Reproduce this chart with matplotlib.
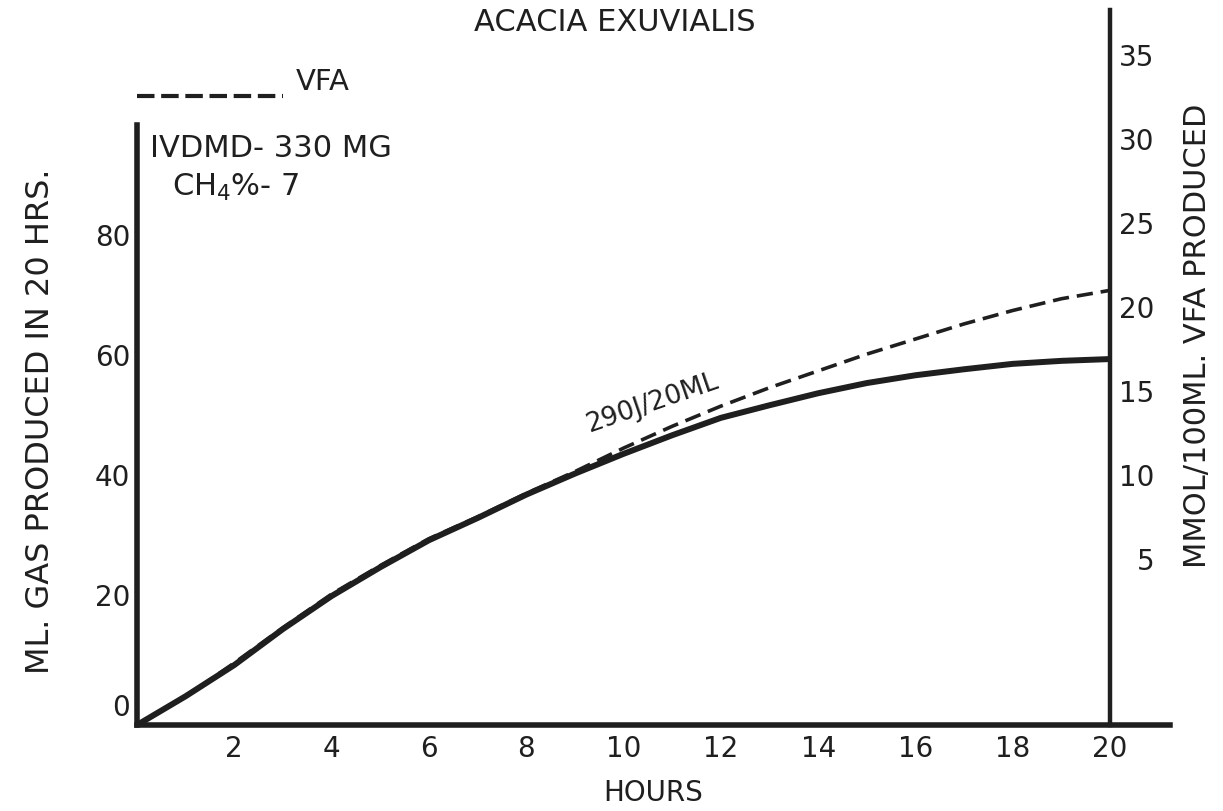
import matplotlib
matplotlib.use("Agg")
import matplotlib.pyplot as plt
import matplotlib.transforms as mtransforms

# Incubation time, hours
hours = [0, 1, 2, 3, 4, 5, 6, 7, 8, 9, 10,
         11, 12, 13, 14, 15, 16, 17, 18, 19, 20]
# Cumulative gas production, ml
gas_ml = [0, 4.8, 10.0, 16.0, 21.5, 26.3, 30.8, 34.5, 38.4, 41.9, 45.2,
          48.3, 51.2, 53.3, 55.3, 57.0, 58.3, 59.3, 60.2, 60.7, 61.0]
# Volatile fatty acids, mmol / 100 ml (read on the right-hand scale)
vfa_mmol = [-4.9, -3.2, -1.2, 0.9, 2.9, 4.6, 6.2, 7.5, 8.9, 10.2, 11.6,
            12.9, 14.1, 15.2, 16.2, 17.2, 18.1, 19.0, 19.8, 20.5, 21.0]

x_ticks = [2, 4, 6, 8, 10, 12, 14, 16, 18, 20]
left_ticks = [0, 20, 40, 60, 80]
right_ticks = [5, 10, 15, 20, 25, 30, 35]

INK = "#1f1f1f"
plt.rcParams["font.family"] = ["DejaVu Sans"]

fig = plt.figure(figsize=(12.23, 8.11), dpi=100)
fig.patch.set_facecolor("white")
ax = fig.add_axes([0.1120, 0.1060, 0.8446, 0.8816])
ax.set_facecolor("none")

ax.set_xlim(0, 21.23)
ax.set_ylim(0, 119.17)

# Gas curve (solid)
ax.plot(hours, gas_ml, color=INK, lw=4.3, solid_capstyle="butt",
        solid_joinstyle="round", zorder=3)

# Axes frame
for side in ("top", "right"):
    ax.spines[side].set_visible(False)
for side in ("left", "bottom"):
    ax.spines[side].set_linewidth(4.0)
    ax.spines[side].set_color(INK)
ax.spines["left"].set_bounds(0, 100)

ax.set_xticks(x_ticks)
ax.set_xticklabels([str(t) for t in x_ticks])
ax.set_yticks(left_ticks)
ax.set_yticklabels([str(t) for t in left_ticks])
ax.tick_params(axis="both", length=0, labelsize=20, colors=INK)
ax.tick_params(axis="x", pad=7)
ax.tick_params(axis="y", pad=5)
for lab, val in zip(ax.get_yticklabels(), left_ticks):
    lift = 20 if val == 0 else 10
    shift = mtransforms.ScaledTranslation(0, lift / 100, fig.dpi_scale_trans)
    lab.set_transform(lab.get_transform() + shift)

ax.set_xlabel("HOURS", fontsize=20, color=INK, labelpad=12)
ax.set_ylabel("ML. GAS PRODUCED IN 20 HRS.", fontsize=23, color=INK)
ax.yaxis.set_label_coords(-0.078, 0.425)

# Right-hand VFA scale
ax2 = ax.twinx()
ax2.set_facecolor("none")
ax2.set_ylim(-4.90, 37.70)
ax2.plot(hours, vfa_mmol, color=INK, lw=2.6, linestyle=(0, (4.5, 2.2)),
         zorder=3)
for side in ("top", "left", "bottom"):
    ax2.spines[side].set_visible(False)
ax2.spines["right"].set_position(("data", 20))
ax2.spines["right"].set_linewidth(3.2)
ax2.spines["right"].set_color(INK)
ax2.set_yticks(right_ticks)
ax2.set_yticklabels([str(t) for t in right_ticks])
ax2.tick_params(axis="y", length=0, labelsize=20, colors=INK, pad=32)
for lab in ax2.get_yticklabels():
    lab.set_horizontalalignment("right")
ax2.set_ylabel("MMOL/100ML. VFA PRODUCED", fontsize=22, color=INK)
ax2.yaxis.set_label_coords(1.0126, 0.545)

# Title and annotations
fig.text(0.503, 0.972, "ACACIA EXUVIALIS", ha="center", va="center",
         fontsize=22, color=INK)

ax.plot([0.0, 0.1413], [0.880, 0.880], transform=ax.transAxes, color=INK,
        lw=3.0, linestyle=(0, (4.2, 1.6)), clip_on=False)
ax.text(0.154, 0.880, "VFA", transform=ax.transAxes, ha="left",
        va="bottom", fontsize=21, color=INK)

ax.text(0.013, 0.806, "IVDMD- 330 MG", transform=ax.transAxes, ha="left",
        va="center", fontsize=22, color=INK)
ax.text(0.034, 0.752, r"CH$_{4}$%- 7", transform=ax.transAxes, ha="left",
        va="center", fontsize=22, color=INK)

ax.text(10.59, 53.7, "290J/20ML", rotation=19, ha="center", va="center",
        fontsize=19, color=INK, rotation_mode="anchor")

fig.savefig("out.png", dpi=100, facecolor="white")
